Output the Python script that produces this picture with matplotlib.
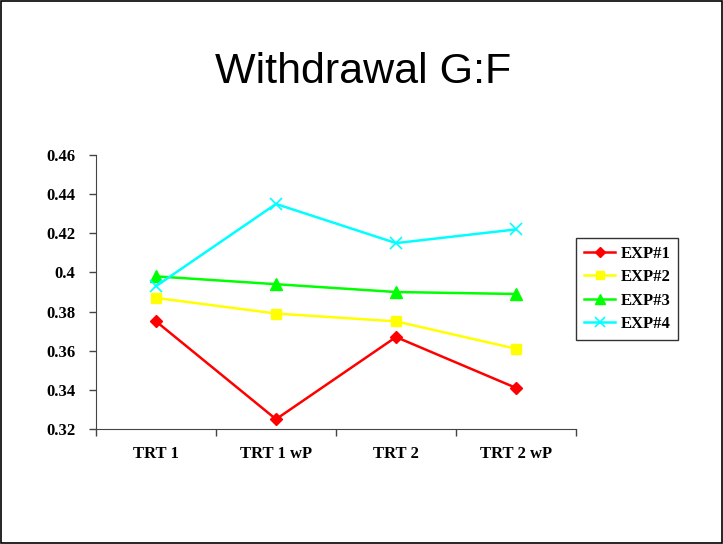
import matplotlib
matplotlib.use('Agg')
import matplotlib.pyplot as plt
from matplotlib.patches import Rectangle

categories = ['TRT 1', 'TRT 1 wP', 'TRT 2', 'TRT 2 wP']
exp1 = [0.375, 0.325, 0.367, 0.341]
exp2 = [0.387, 0.379, 0.375, 0.361]
exp3 = [0.398, 0.394, 0.390, 0.389]
exp4 = [0.393, 0.435, 0.415, 0.422]
y_ticks = [0.32, 0.34, 0.36, 0.38, 0.4, 0.42, 0.44, 0.46]
y_labels = ['0.32', '0.34', '0.36', '0.38', '0.4', '0.42', '0.44', '0.46']

serif_bold = {'family': 'Liberation Serif', 'weight': 'bold', 'size': 12}

fig = plt.figure(figsize=(7.23, 5.44), dpi=100)
fig.patches.append(Rectangle((0.001, 0.001), 0.997, 0.997, transform=fig.transFigure,
                             fill=False, edgecolor='black', linewidth=1.2))

ax = fig.add_axes([0.1328, 0.2114, 0.6639, 0.5036])
x = list(range(len(categories)))
ax.plot(x, exp1, color='#ff0000', marker='D', markersize=6.5, lw=1.8, label='EXP#1')
ax.plot(x, exp2, color='#ffff00', marker='s', markersize=7.5, lw=1.8, label='EXP#2')
ax.plot(x, exp3, color='#00ff00', marker='^', markersize=8.5, lw=1.8, label='EXP#3')
ax.plot(x, exp4, color='#00ffff', marker='x', markersize=8.5, mew=1.2, lw=1.8, label='EXP#4')

ax.set_xlim(-0.5, len(categories) - 0.5)
ax.set_ylim(0.32, 0.46)
ax.set_yticks(y_ticks)
ax.set_yticklabels(y_labels, fontdict=serif_bold)

ax.set_xticks([i - 0.5 for i in range(len(categories) + 1)])
ax.set_xticklabels([])
ax.set_xticks(x, minor=True)
ax.set_xticklabels(categories, minor=True, fontdict=serif_bold)
ax.tick_params(axis='x', which='minor', length=0, pad=12)
ax.tick_params(axis='both', which='major', direction='out', length=5, width=1, color='#444444')
ax.tick_params(axis='y', pad=10)

for s in ['top', 'right']:
    ax.spines[s].set_visible(False)
for s in ['left', 'bottom']:
    ax.spines[s].set_color('#444444')

fig.text(0.502, 0.868, 'Withdrawal G:F', ha='center', va='center',
         fontsize=31, family='Liberation Sans')

leg = fig.legend(loc='upper left', bbox_to_anchor=(0.797, 0.562),
                 prop={'family': 'Liberation Serif', 'weight': 'bold', 'size': 12},
                 frameon=True, fancybox=False, edgecolor='black', handlelength=1.9,
                 borderpad=0.45, labelspacing=0.45, handletextpad=0.3, markerscale=0.8,
                 borderaxespad=0)
leg.get_frame().set_linewidth(1.0)

fig.savefig('out.png', dpi=100)
